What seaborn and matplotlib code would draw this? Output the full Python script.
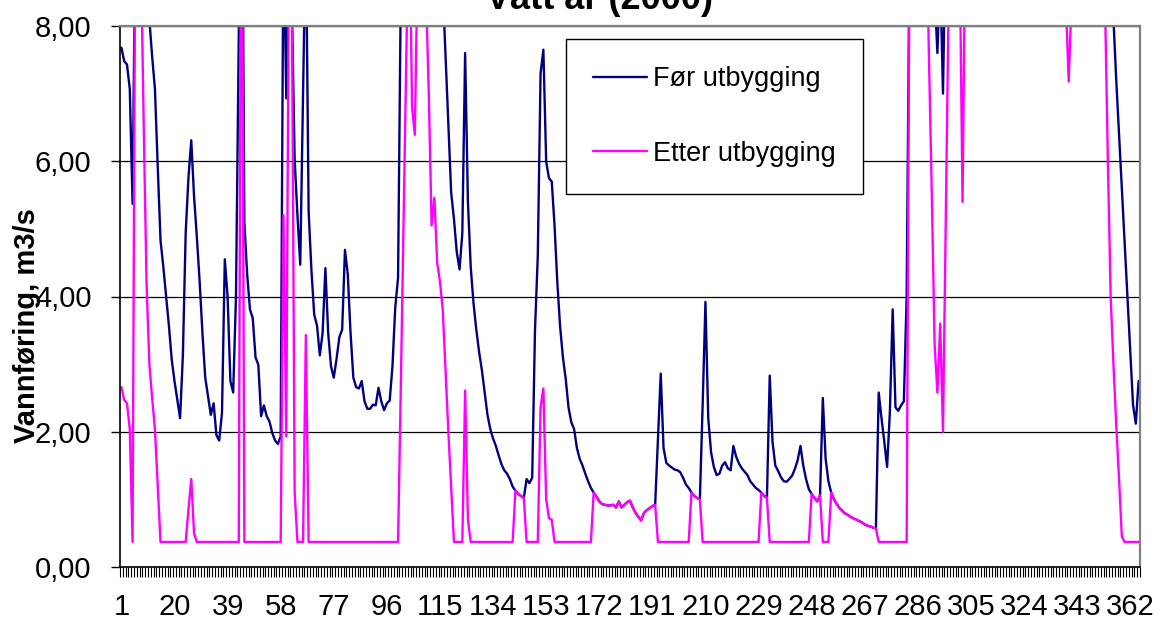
"""
plot.py – Daily discharge before/after development, wet year (2000)
"""
import numpy as np
import pandas as pd
import matplotlib
matplotlib.use("Agg")
import matplotlib.pyplot as plt
import seaborn as sns

# ── Data (m3/s per day) ───────────────────────────────────────────────────────

days = list(range(1, 366))

for_utbygging = [
    7.68, 7.48, 7.43, 7.07, 5.37, 9.5, 10.2, 10.5, 9.8, 9.0,
    8.1, 7.55, 7.07, 5.92, 4.83, 4.44, 4.0, 3.57, 3.07, 2.75,
    2.47, 2.2, 3.13, 4.94, 5.76, 6.31, 5.48, 4.88, 4.22, 3.46,
    2.8, 2.53, 2.25, 2.42, 1.95, 1.87, 2.28, 4.55, 4.0, 2.75,
    2.58, 4.0, 7.8, 12.0, 5.1, 4.33, 3.81, 3.68, 3.1, 2.99,
    2.23, 2.39, 2.23, 2.15, 1.98, 1.87, 1.82, 1.93, 9.5, 6.93,
    9.5, 8.3, 6.03, 5.2, 4.47, 7.0, 9.5, 5.26, 4.39, 3.73,
    3.57, 3.13, 3.46, 4.42, 3.46, 2.97, 2.8, 3.08, 3.4, 3.51,
    4.69, 4.33, 3.46, 2.8, 2.66, 2.64, 2.75, 2.45, 2.34, 2.34,
    2.4, 2.39, 2.65, 2.45, 2.32, 2.42, 2.46, 2.97, 3.84, 4.28,
    8.6, 10.5, 12.8, 14.2, 13.5, 12.0, 11.2, 12.5, 13.0, 11.8,
    10.6, 10.0, 9.6, 9.3, 9.0, 8.56, 7.56, 6.58, 5.54, 5.15,
    4.66, 4.4, 4.94, 7.6, 5.4, 4.44, 3.9, 3.51, 3.18, 2.91,
    2.58, 2.25, 2.04, 1.9, 1.79, 1.65, 1.52, 1.43, 1.38, 1.3,
    1.19, 1.13, 1.08, 1.05, 1.02, 1.3, 1.24, 1.32, 3.5, 4.6,
    7.3, 7.65, 6.0, 5.75, 5.7, 5.05, 4.2, 3.55, 3.1, 2.78,
    2.36, 2.14, 2.04, 1.76, 1.6, 1.5, 1.38, 1.27, 1.17, 1.1,
    1.04, 0.97, 0.93, 0.92, 0.91, 0.91, 0.92, 0.88, 0.97, 0.88,
    0.92, 0.96, 0.98, 0.88, 0.8, 0.74, 0.69, 0.8, 0.84, 0.87,
    0.9, 0.92, 1.9, 2.86, 1.76, 1.54, 1.5, 1.47, 1.44, 1.43,
    1.4, 1.32, 1.22, 1.17, 1.1, 1.05, 1.02, 1.0, 2.4, 3.92,
    2.2, 1.7, 1.48, 1.36, 1.38, 1.5, 1.55, 1.46, 1.43, 1.79,
    1.63, 1.53, 1.46, 1.41, 1.36, 1.27, 1.22, 1.17, 1.14, 1.1,
    1.05, 1.02, 2.83, 1.85, 1.5, 1.42, 1.33, 1.27, 1.26, 1.3,
    1.35, 1.45, 1.58, 1.79, 1.5, 1.3, 1.15, 1.08, 1.02, 0.97,
    1.06, 2.5, 1.6, 1.27, 1.1, 1.0, 0.93, 0.87, 0.83, 0.79,
    0.77, 0.74, 0.72, 0.7, 0.68, 0.66, 0.63, 0.61, 0.6, 0.58,
    0.57, 2.58, 2.2, 1.85, 1.48, 2.3, 3.81, 2.36, 2.31, 2.39,
    2.45, 4.0, 9.0, 11.5, 13.0, 14.5, 15.0, 13.8, 12.0, 10.5,
    9.2, 8.5, 7.6, 8.8, 7.0, 9.5, 11.0, 12.5, 13.5, 14.0,
    13.2, 12.4, 11.8, 12.6, 13.4, 12.8, 12.0, 11.5, 11.0, 11.8,
    12.5, 13.0, 12.2, 11.6, 11.0, 10.6, 11.2, 12.0, 12.8, 13.5,
    14.0, 13.4, 12.6, 12.0, 11.5, 11.0, 10.6, 10.2, 10.8, 11.4,
    12.0, 11.6, 11.0, 10.5, 10.1, 9.8, 10.2, 10.6, 10.0, 9.6,
    10.0, 10.8, 11.5, 11.0, 10.6, 10.2, 9.9, 9.6, 9.4, 9.2,
    9.0, 8.9, 8.7, 8.5, 8.3, 8.1, 7.2, 6.4, 5.6, 4.8,
    4.0, 3.2, 2.4, 2.12, 2.75,
]

etter_utbygging = [
    2.66, 2.47, 2.42, 2.04, 0.37, 10.0, 11.0, 9.0, 6.5, 4.2,
    3.0, 2.5, 2.04, 1.2, 0.37, 0.37, 0.37, 0.37, 0.37, 0.37,
    0.37, 0.37, 0.37, 0.37, 0.85, 1.3, 0.5, 0.37, 0.37, 0.37,
    0.37, 0.37, 0.37, 0.37, 0.37, 0.37, 0.37, 0.37, 0.37, 0.37,
    0.37, 0.37, 0.37, 12.0, 0.37, 0.37, 0.37, 0.37, 0.37, 0.37,
    0.37, 0.37, 0.37, 0.37, 0.37, 0.37, 0.37, 0.37, 5.2, 1.93,
    9.5, 8.5, 1.1, 0.37, 0.37, 0.37, 3.43, 0.37, 0.37, 0.37,
    0.37, 0.37, 0.37, 0.37, 0.37, 0.37, 0.37, 0.37, 0.37, 0.37,
    0.37, 0.37, 0.37, 0.37, 0.37, 0.37, 0.37, 0.37, 0.37, 0.37,
    0.37, 0.37, 0.37, 0.37, 0.37, 0.37, 0.37, 0.37, 0.37, 0.37,
    2.7, 5.2, 7.7, 10.0, 6.8, 6.39, 9.0, 10.0, 9.5, 8.5,
    7.0, 5.05, 5.46, 4.5, 4.22, 3.8, 2.9, 2.0, 1.2, 0.37,
    0.37, 0.37, 0.37, 2.61, 0.7, 0.37, 0.37, 0.37, 0.37, 0.37,
    0.37, 0.37, 0.37, 0.37, 0.37, 0.37, 0.37, 0.37, 0.37, 0.37,
    0.37, 1.13, 1.08, 1.05, 1.02, 0.37, 0.37, 0.37, 0.37, 0.37,
    2.36, 2.64, 1.0, 0.72, 0.7, 0.37, 0.37, 0.37, 0.37, 0.37,
    0.37, 0.37, 0.37, 0.37, 0.37, 0.37, 0.37, 0.37, 0.37, 1.1,
    1.04, 0.97, 0.93, 0.92, 0.91, 0.91, 0.92, 0.88, 0.97, 0.88,
    0.92, 0.96, 0.98, 0.88, 0.8, 0.74, 0.69, 0.8, 0.84, 0.87,
    0.9, 0.92, 0.37, 0.37, 0.37, 0.37, 0.37, 0.37, 0.37, 0.37,
    0.37, 0.37, 0.37, 0.37, 1.1, 1.05, 1.02, 1.0, 0.37, 0.37,
    0.37, 0.37, 0.37, 0.37, 0.37, 0.37, 0.37, 0.37, 0.37, 0.37,
    0.37, 0.37, 0.37, 0.37, 0.37, 0.37, 0.37, 0.37, 0.37, 1.1,
    1.05, 1.02, 0.37, 0.37, 0.37, 0.37, 0.37, 0.37, 0.37, 0.37,
    0.37, 0.37, 0.37, 0.37, 0.37, 0.37, 0.37, 1.08, 1.02, 0.97,
    1.06, 0.37, 0.37, 0.37, 1.1, 1.0, 0.93, 0.87, 0.83, 0.79,
    0.77, 0.74, 0.72, 0.7, 0.68, 0.66, 0.63, 0.61, 0.6, 0.58,
    0.57, 0.37, 0.37, 0.37, 0.37, 0.37, 0.37, 0.37, 0.37, 0.37,
    0.37, 0.37, 9.0, 11.0, 12.5, 13.5, 12.0, 10.8, 9.6, 7.5,
    5.5, 3.3, 2.58, 3.6, 2.0, 5.2, 8.3, 10.5, 12.0, 11.0,
    9.0, 5.4, 9.5, 11.0, 12.0, 11.5, 11.0, 10.5, 10.0, 10.8,
    11.5, 12.0, 11.4, 10.8, 10.2, 9.8, 10.4, 11.0, 11.8, 12.5,
    13.0, 12.4, 11.6, 11.0, 10.5, 10.0, 9.6, 9.2, 9.8, 10.4,
    11.0, 10.6, 10.0, 9.5, 9.1, 8.8, 8.6, 8.5, 8.3, 7.18,
    8.4, 9.2, 9.8, 10.2, 9.9, 9.5, 9.2, 9.0, 8.8, 8.6,
    8.6, 8.5, 8.3, 6.0, 4.0, 3.0, 2.1, 1.3, 0.45, 0.37,
    0.37, 0.37, 0.37, 0.37, 0.37,
]

tick_days = [1, 20, 39, 58, 77, 96, 115, 134, 153, 172,
             191, 210, 229, 248, 267, 286, 305, 324, 343, 362]
y_ticks = [0, 2, 4, 6, 8]
y_labels = ["0,00", "2,00", "4,00", "6,00", "8,00"]

# ── Style ─────────────────────────────────────────────────────────────────────

sns.set_style("white")
plt.rcParams["font.family"] = ["Liberation Sans", "DejaVu Sans"]
plt.rcParams.update({
    "text.color": "black",
    "axes.labelcolor": "black",
    "xtick.color": "black",
    "ytick.color": "black",
})

W, H = 1162, 621
fig = plt.figure(figsize=(W / 100, H / 100), dpi=100)
ax = fig.add_axes([120 / W, 1 - 567 / H, 1020 / W, 541 / H])

df = pd.DataFrame({
    "dag": days,
    "Før utbygging": for_utbygging,
    "Etter utbygging": etter_utbygging,
})

sns.lineplot(data=df, x="dag", y="Før utbygging", color="#000080",
             lw=1.7, ax=ax, label="Før utbygging")
sns.lineplot(data=df, x="dag", y="Etter utbygging", color="#FF00FF",
             lw=1.7, ax=ax, label="Etter utbygging")

ax.set_xlim(0.5, 365.5)
ax.set_ylim(0, 8)
ax.set_xlabel("")
ax.set_ylabel("")

# gridlines
ax.set_axisbelow(True)
ax.grid(axis="y", color="black", lw=0.9)
ax.grid(axis="x", visible=False)

# spines
for side in ("left", "bottom"):
    ax.spines[side].set_color("black")
    ax.spines[side].set_linewidth(1.2)
for side in ("top", "right"):
    ax.spines[side].set_color("#808080")
    ax.spines[side].set_linewidth(1.6)

# ticks
ax.set_yticks(y_ticks)
ax.set_yticklabels(y_labels, fontsize=21, color="black")
ax.tick_params(axis="y", direction="out", length=6.5, width=1.0,
               color="black", pad=14, left=True)

ax.set_xticks(tick_days)
ax.set_xticklabels([str(d) for d in tick_days], fontsize=21, color="black")
ax.set_xticks(np.arange(0.5, 366, 1), minor=True)
ax.tick_params(axis="x", which="major", length=0, pad=19, bottom=True)
ax.tick_params(axis="x", which="minor", direction="out", length=7.2,
               width=0.8, color="black", bottom=True)

# labels
fig.text(600 / W, 1 - 9 / H, "Vått år (2000)", ha="center", va="baseline",
         fontsize=26, fontweight="bold", color="black")
fig.text(27 / W, 1 - 326 / H, "Vannføring, m3/s", ha="center", va="center",
         rotation=90, fontsize=21, fontweight="bold", color="black")

leg = ax.legend(loc="upper left", bbox_to_anchor=(566 / W, 1 - 39 / H),
                bbox_transform=fig.transFigure, fontsize=19.5, frameon=True,
                fancybox=False, edgecolor="black", framealpha=1,
                borderpad=1.0, labelspacing=1.8, handlelength=2.0,
                handletextpad=0.2, borderaxespad=0)
leg.get_frame().set_linewidth(1.0)
for txt in leg.get_texts():
    txt.set_color("black")

fig.savefig("out.png", dpi=100)
